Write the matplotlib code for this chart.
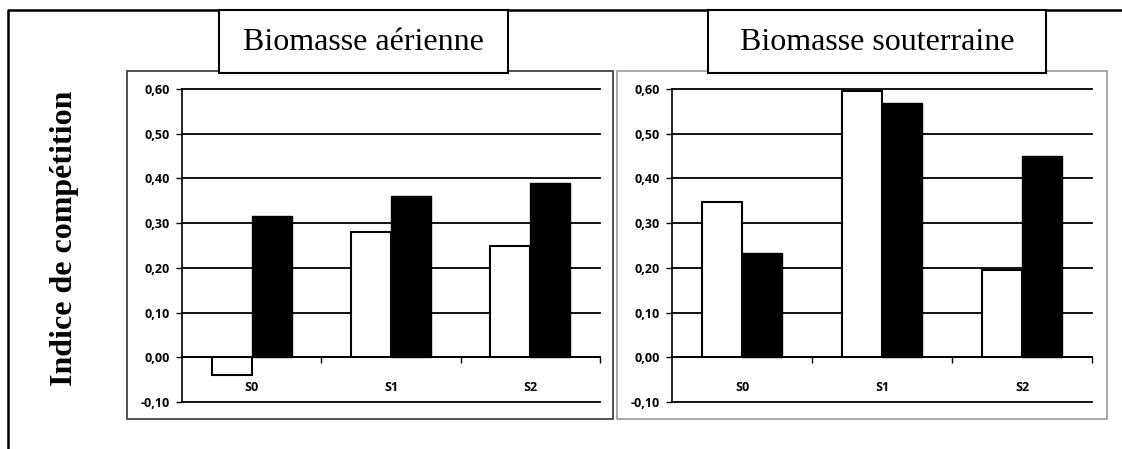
import matplotlib.pyplot as plt
from matplotlib.patches import Rectangle
from matplotlib.lines import Line2D
from matplotlib.ticker import FuncFormatter
import numpy as np

categories = ['S0', 'S1', 'S2']
aerienne_blanc = [-0.04, 0.28, 0.248]
aerienne_noir = [0.315, 0.36, 0.39]
souterraine_blanc = [0.347, 0.595, 0.195]
souterraine_noir = [0.233, 0.569, 0.45]
titres = ['Biomasse aérienne', 'Biomasse souterraine']
yticks = [-0.1, 0.0, 0.1, 0.2, 0.3, 0.4, 0.5, 0.6]

W, H = 1122, 449
fig = plt.figure(figsize=(W / 100, H / 100), dpi=100)


def fx(px):
    return px / W


def fy(py):
    return 1 - py / H


# cadre général (haut + gauche)
fig.add_artist(Line2D([fx(8), fx(8), fx(1122)], [fy(449), fy(10), fy(10)],
                      color='black', lw=1.8, transform=fig.transFigure))

# cadres des deux graphiques
for x0, x1, col in [(127, 613, '#333333'), (617, 1107, '#999999')]:
    fig.add_artist(Rectangle((fx(x0), fy(419)), fx(x1 - x0), (419 - 71) / H,
                             fill=False, ec=col, lw=1.2, transform=fig.transFigure))

# boîtes de titre
for (x0, x1), titre in zip([(219, 508), (708, 1046)], titres):
    fig.add_artist(Rectangle((fx(x0), fy(73)), fx(x1 - x0), (73 - 10) / H,
                             fc='white', ec='black', lw=1.5, transform=fig.transFigure,
                             zorder=5))
    fig.text(fx((x0 + x1) / 2), fy(42), titre, ha='center', va='center',
             family='Liberation Serif', fontsize=23, zorder=6)

fig.text(fx(65), fy(238), 'Indice de compétition', rotation=90, ha='center',
         va='center', family='Liberation Serif', fontweight='bold', fontsize=23)

w = 0.286
x = np.arange(len(categories))
panneaux = [(182, 600, aerienne_blanc, aerienne_noir),
            (672, 1092, souterraine_blanc, souterraine_noir)]

for x0, x1, blanc, noir in panneaux:
    ax = fig.add_axes([fx(x0), fy(402), fx(x1 - x0), (402 - 89) / H])
    ax.bar(x - w / 2, blanc, w, color='white', edgecolor='black', lw=1.5, zorder=3)
    ax.bar(x + w / 2, noir, w, color='black', edgecolor='black', lw=1.0, zorder=3)
    ax.set_xlim(-0.5, 2.5)
    ax.set_ylim(-0.1, 0.6)
    ax.set_yticks(yticks)
    ax.yaxis.set_major_formatter(FuncFormatter(lambda v, p: f'{v:.2f}'.replace('.', ',')))
    ax.grid(axis='y', color='black', lw=1.3)
    ax.set_axisbelow(True)
    for s in ['top', 'right']:
        ax.spines[s].set_visible(False)
    ax.spines['bottom'].set_position(('data', 0))
    ax.spines['bottom'].set_linewidth(1.2)
    ax.spines['left'].set_linewidth(1.2)
    ax.set_xticks(x)
    ax.set_xticklabels(categories)
    ax.set_xticks([0.5, 1.5, 2.5], minor=True)
    ax.tick_params(axis='x', which='major', length=0, pad=17)
    ax.tick_params(axis='x', which='minor', length=4, direction='out', width=1)
    ax.tick_params(axis='y', length=4, width=1, pad=5)
    for lab in ax.get_xticklabels() + ax.get_yticklabels():
        lab.set_family('Open Sans')
        lab.set_fontweight('bold')
        lab.set_fontsize(9)
    for line in ax.get_ygridlines():
        line.set_clip_on(False)

fig.savefig('out.png', dpi=100)
